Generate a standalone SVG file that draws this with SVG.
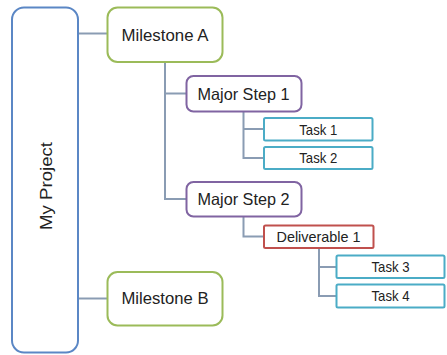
<svg xmlns="http://www.w3.org/2000/svg" width="447" height="355" viewBox="0 0 447 355">
  <style>
    .box { fill: #ffffff; stroke-width: 2; }
    .project { stroke: #5b87c5; }
    .milestone { stroke: #9bbb59; }
    .step { stroke: #8064a2; }
    .task { stroke: #4bacc6; }
    .deliv { stroke: #c0504d; }
    .lbl { font-family: "Liberation Sans", Arial, sans-serif; fill: #222222; text-anchor: middle; }
    .big { font-size: 16.5px; }
    .small { font-size: 15px; }
    .conn { fill: none; stroke: #8a9cb3; stroke-width: 2; }
  </style>

  <!-- tree connectors -->
  <g id="connectors">
    <path class="conn" d="M78,33.5 H107.5"/>
    <path class="conn" d="M78,298.5 H107.5"/>
    <path class="conn" d="M165,62 V199 H186.5 M165,93.5 H186.5"/>
    <path class="conn" d="M243.5,111.5 V158 H264 M243.5,129 H264"/>
    <path class="conn" d="M243.5,216.5 V236.5 H264"/>
    <path class="conn" d="M319,248 V296 H336.5 M319,267 H336.5"/>
  </g>

  <g id="project">
    <rect class="box project" x="12" y="7.5" width="66" height="345" rx="12"/>
    <text class="lbl big" transform="translate(52,186) rotate(-90)" textLength="88" lengthAdjust="spacingAndGlyphs">My Project</text>
  </g>

  <g id="milestone-a">
    <rect class="box milestone" x="107.5" y="7.5" width="115" height="54.5" rx="10"/>
    <text class="lbl big" x="165" y="40.5" textLength="87" lengthAdjust="spacingAndGlyphs">Milestone A</text>
  </g>

  <g id="milestone-b">
    <rect class="box milestone" x="107.5" y="272" width="115" height="53.5" rx="10"/>
    <text class="lbl big" x="165" y="304.3" textLength="87" lengthAdjust="spacingAndGlyphs">Milestone B</text>
  </g>

  <g id="major-step-1">
    <rect class="box step" x="186.5" y="76" width="115" height="35.5" rx="7"/>
    <text class="lbl big" x="243.5" y="99.5" textLength="92" lengthAdjust="spacingAndGlyphs">Major Step 1</text>
  </g>

  <g id="major-step-2">
    <rect class="box step" x="186.5" y="182" width="115" height="34.5" rx="7"/>
    <text class="lbl big" x="243.5" y="205" textLength="92" lengthAdjust="spacingAndGlyphs">Major Step 2</text>
  </g>

  <g id="task-1">
    <rect class="box task" x="264" y="118" width="108.5" height="22.5" rx="1.5"/>
    <text class="lbl small" x="318.3" y="134.5" textLength="38" lengthAdjust="spacingAndGlyphs">Task 1</text>
  </g>

  <g id="task-2">
    <rect class="box task" x="264" y="147" width="108.5" height="22" rx="1.5"/>
    <text class="lbl small" x="318.3" y="163.3" textLength="38" lengthAdjust="spacingAndGlyphs">Task 2</text>
  </g>

  <g id="deliverable-1">
    <rect class="box deliv" x="264" y="225.5" width="109.5" height="22.5" rx="1.5"/>
    <text class="lbl small" x="318.5" y="242.2" textLength="84" lengthAdjust="spacingAndGlyphs">Deliverable 1</text>
  </g>

  <g id="task-3">
    <rect class="box task" x="336.5" y="255.5" width="108" height="22.5" rx="1.5"/>
    <text class="lbl small" x="390.5" y="272.2" textLength="38" lengthAdjust="spacingAndGlyphs">Task 3</text>
  </g>

  <g id="task-4">
    <rect class="box task" x="336.5" y="284.5" width="108" height="23" rx="1.5"/>
    <text class="lbl small" x="390.5" y="301.4" textLength="38" lengthAdjust="spacingAndGlyphs">Task 4</text>
  </g>
</svg>
